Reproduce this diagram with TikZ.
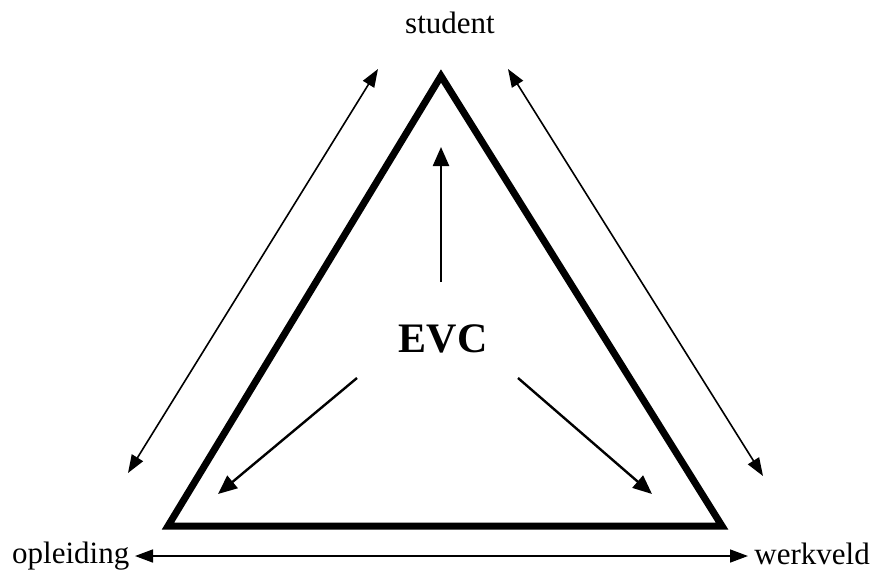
\documentclass[tikz,border=0pt]{standalone}
\usepackage{fontspec}
\setmainfont{Liberation Serif}
\usetikzlibrary{arrows.meta}

\begin{document}
\begin{tikzpicture}[x=1pt, y=-1pt,
    pijl/.style={line width=2.4pt, -{Triangle[length=19pt,width=16pt]}},
    dubbel/.style={line width=1.6pt, {Triangle[length=18pt,width=13pt]}-{Triangle[length=18pt,width=13pt]}},
    hoek/.style={font=\fontsize{31}{36}\selectfont, inner sep=0pt}]
    \useasboundingbox (0,0) rectangle (873,573);

    \coordinate (T) at (441, 76);
    \coordinate (L) at (168, 526);
    \coordinate (R) at (722, 526);
    \draw[line width=7pt] (T) -- (L) -- (R) -- cycle;

    \node [hoek, anchor=base] (student) at (450, 33) {student};
    \node [hoek, anchor=base west] (opleiding) at (12, 563) {opleiding};
    \node [hoek, anchor=base east] (werkveld) at (870, 564) {werkveld};
    \node [font=\bfseries\fontsize{42}{46}\selectfont, inner sep=0pt, anchor=base] (evc) at (443, 352) {EVC};

    % pijlen vanuit EVC
    \coordinate (e1) at (441, 282);
    \coordinate (e2) at (441, 147);
    \draw[pijl] (e1) -- (e2);
    \coordinate (e3) at (357, 378);
    \coordinate (e4) at (218, 494);
    \draw[pijl] (e3) -- (e4);
    \coordinate (e5) at (518, 378);
    \coordinate (e6) at (652, 494);
    \draw[pijl] (e5) -- (e6);

    % pijlen langs de zijden
    \coordinate (s1) at (378, 69);
    \coordinate (s2) at (128, 473);
    \draw[dubbel] (s1) -- (s2);
    \coordinate (s3) at (508, 69);
    \coordinate (s4) at (763, 476);
    \draw[dubbel] (s3) -- (s4);
    \coordinate (s5) at (135, 556);
    \coordinate (s6) at (748, 556);
    \draw[dubbel] (s5) -- (s6);
\end{tikzpicture}
\end{document}
